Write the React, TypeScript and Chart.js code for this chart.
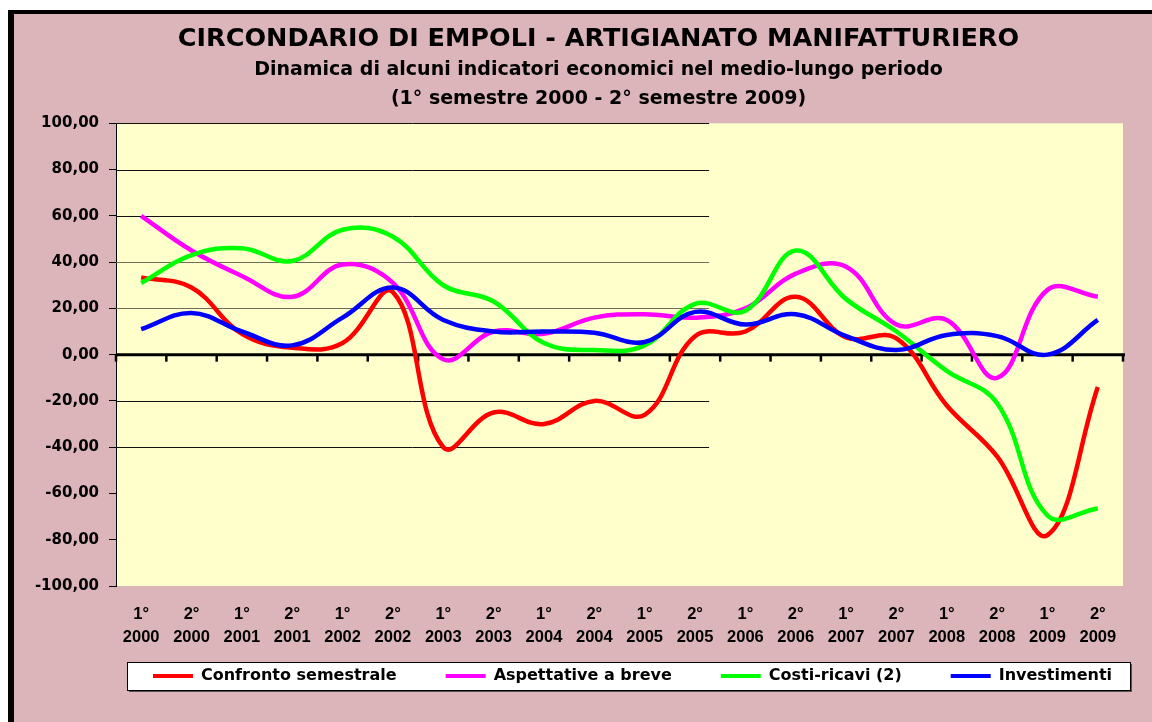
import React, { useEffect, useRef } from 'react';
import { Chart, registerables } from 'chart.js';

Chart.register(...registerables);

const TITLE = 'CIRCONDARIO DI EMPOLI - ARTIGIANATO MANIFATTURIERO';
const SUBTITLE = [
  'Dinamica di alcuni indicatori economici nel medio-lungo periodo',
  '(1° semestre 2000 - 2° semestre 2009)',
];

const SEMESTERS = ['1°', '2°', '1°', '2°', '1°', '2°', '1°', '2°', '1°', '2°', '1°', '2°', '1°', '2°', '1°', '2°', '1°', '2°', '1°', '2°'];
const YEARS = ['2000', '2000', '2001', '2001', '2002', '2002', '2003', '2003', '2004', '2004', '2005', '2005', '2006', '2006', '2007', '2007', '2008', '2008', '2009', '2009'];

const SERIES_NAMES = ['Confronto semestrale', 'Aspettative a breve', 'Costi-ricavi (2)', 'Investimenti'];
const SERIES_COLORS = ['#ff0000', '#ff00ff', '#00ff00', '#0000ff'];

const CONFRONTO = [33.4, 29, 9, 3, 5, 27, -40, -25, -30, -20, -26, 8, 10, 25, 7.5, 7, -22, -44, -78, -14];
const ASPETTATIVE = [60, 45, 34, 25, 39, 31, -2, 10, 9, 16, 17.5, 16, 20, 35, 38, 13, 15, -10, 28, 25];
const COSTI_RICAVI = [31, 43, 46, 40.5, 54, 51, 30, 23, 5, 2, 4, 22, 19, 45, 24, 10, -7, -21, -69.5, -66.5];
const INVESTIMENTI = [11, 18, 10, 4, 16, 29, 15, 10, 10, 9.5, 5.5, 18.5, 13, 17.5, 8, 2, 8.5, 8, 0, 15];

const Y_MIN = -100;
const Y_MAX = 100;
const Y_STEP = 20;
const GRID_VALUES = [100, 80, 60, 40, 20, -20, -40];

const GRID_EXTENT = 0.589;

const formatTick = (v: number) => v.toFixed(2).replace('.', ',');

const excelAxes = {
  id: 'excelAxes',
  beforeDraw(chart: any) {
    const { ctx, chartArea: a, legend } = chart;
    ctx.save();
    ctx.fillStyle = '#ffffcc';
    ctx.fillRect(a.left, a.top, a.right - a.left, a.bottom - a.top);
    // legend frame
    const lx = 127;
    const lr = 1130;
    const ly = legend.top + 43;
    const lb = legend.top + 71;
    ctx.fillStyle = '#555';
    ctx.fillRect(lx + 2, ly + 2, lr - lx, lb - ly);
    ctx.fillStyle = '#ffffff';
    ctx.fillRect(lx, ly, lr - lx, lb - ly);
    ctx.strokeStyle = '#000';
    ctx.lineWidth = 1;
    ctx.strokeRect(lx + 0.5, ly + 0.5, lr - lx, lb - ly);
    ctx.restore();
  },
  beforeDatasetsDraw(chart: any) {
    const { ctx, chartArea: a, scales } = chart;
    const x = scales.x;
    const y = scales.y;
    const gridRight = a.left + (a.right - a.left) * GRID_EXTENT;
    ctx.save();
    ctx.lineWidth = 1;
    GRID_VALUES.forEach((v) => {
      const py = Math.round(y.getPixelForValue(v)) + 0.5;
      ctx.strokeStyle = v === 40 || v === 20 ? '#6d6d58' : '#111';
      ctx.beginPath();
      ctx.moveTo(a.left, py);
      ctx.lineTo(gridRight, py);
      ctx.stroke();
    });
    const y0 = y.getPixelForValue(0);
    ctx.strokeStyle = '#000';
    ctx.lineWidth = 3;
    ctx.beginPath();
    ctx.moveTo(a.left, y0);
    ctx.lineTo(a.right + 2, y0);
    ctx.stroke();
    const step = x.getPixelForValue(1) - x.getPixelForValue(0);
    const first = x.getPixelForValue(0) - step / 2;
    ctx.lineWidth = 2.5;
    for (let i = 0; i <= x.ticks.length; i++) {
      const px = first + i * step;
      ctx.beginPath();
      ctx.moveTo(px, y0);
      ctx.lineTo(px, y0 + 7);
      ctx.stroke();
    }
    ctx.restore();
  },
  afterLayout(chart: any) {
    chart.boxes.forEach((b: any) => {
      if (b.position === 'top' && !b.axis) {
        b.left = 0;
        b.right = 1197;
        b.width = b.right - b.left;
      }
    });
    const lg = chart.legend;
    if (lg) {
      lg.left = 95;
      lg.right = 1170;
      lg.width = lg.right - lg.left;
      const h = lg.height;
      lg.top = chart.chartArea.bottom + 33;
      lg.bottom = lg.top + h;
    }
  },
};

export default function App() {
  const ref = useRef<HTMLCanvasElement>(null);

  useEffect(() => {
    const labels = SEMESTERS.map((s, i) => [s, YEARS[i]]);
    const values = [CONFRONTO, ASPETTATIVE, COSTI_RICAVI, INVESTIMENTI];
    const datasets = values.map((data, i) => ({
      label: SERIES_NAMES[i],
      data,
      borderColor: SERIES_COLORS[i],
      backgroundColor: SERIES_COLORS[i],
      borderWidth: 4.5,
      pointRadius: 0,
      pointHoverRadius: 0,
      tension: 0.4,
      fill: false,
      order: values.length - i,
    }));

    const chart = new Chart(ref.current as HTMLCanvasElement, {
      type: 'line',
      data: { labels, datasets },
      plugins: [excelAxes],
      options: {
        animation: false,
        responsive: false,
        maintainAspectRatio: false,
        devicePixelRatio: 1,
        layout: { padding: { left: 0, right: 29, top: 0, bottom: 0 } },
        plugins: {
          tooltip: { enabled: false },
          title: {
            display: true,
            text: TITLE,
            color: '#000',
            font: { family: 'DejaVu Sans', weight: 'bold', size: 25.5, lineHeight: 1.2 },
            padding: { top: 24, bottom: 0.7 },
          },
          subtitle: {
            display: true,
            text: SUBTITLE,
            color: '#000',
            font: { family: 'DejaVu Sans', weight: 'bold', size: 19, lineHeight: 1.55 },
            padding: { top: 0, bottom: 9.1 },
          },
          legend: {
            display: true,
            position: 'bottom',
            labels: {
              color: '#000',
              font: { family: 'DejaVu Sans', weight: 'bold', size: 16 },
              boxWidth: 40,
              boxHeight: 4,
              padding: 49,
              sort: (a: any, b: any) => a.datasetIndex - b.datasetIndex,
              generateLabels: (c: any) =>
                Chart.defaults.plugins.legend.labels.generateLabels(c).map((l: any) => ({
                  ...l,
                  lineWidth: 0,
                  fillStyle: l.strokeStyle,
                })),
            },
          },
        },
        scales: {
          x: {
            offset: true,
            grid: { display: false, drawTicks: false },
            border: { display: false },
            ticks: {
              color: '#000',
              autoSkip: false,
              maxRotation: 0,
              minRotation: 0,
              padding: 16.5,
              font: { family: 'Liberation Sans', weight: 'bold', size: 16.5, lineHeight: '23px' },
            },
            afterFit: (s: any) => {
              s.height = 61;
            },
          },
          y: {
            min: Y_MIN,
            max: Y_MAX,
            grid: {
              display: true,
              drawOnChartArea: false,
              drawTicks: true,
              tickLength: 7,
              color: '#000',
            },
            border: { display: true, color: '#000', width: 1 },
            ticks: {
              stepSize: Y_STEP,
              color: '#000',
              padding: 10,
              font: { family: 'DejaVu Sans', weight: 'bold', size: 15 },
              callback: (v: any) => formatTick(Number(v)),
            },
            afterFit: (s: any) => {
              s.width = 116;
            },
          },
        },
      },
    } as any);

    return () => chart.destroy();
  }, []);

  return (
    <>
      <div
        style={{
          position: 'fixed',
          left: 8,
          top: 10,
          right: 0,
          bottom: 0,
          borderLeft: '6px solid #000',
          borderTop: '4px solid #000',
          background: '#dcb5bb',
        }}
      />
      <canvas
        ref={ref}
        width={1152}
        height={722}
        style={{ position: 'fixed', left: 0, top: 0, width: 1152, height: 722 }}
      />
    </>
  );
}
